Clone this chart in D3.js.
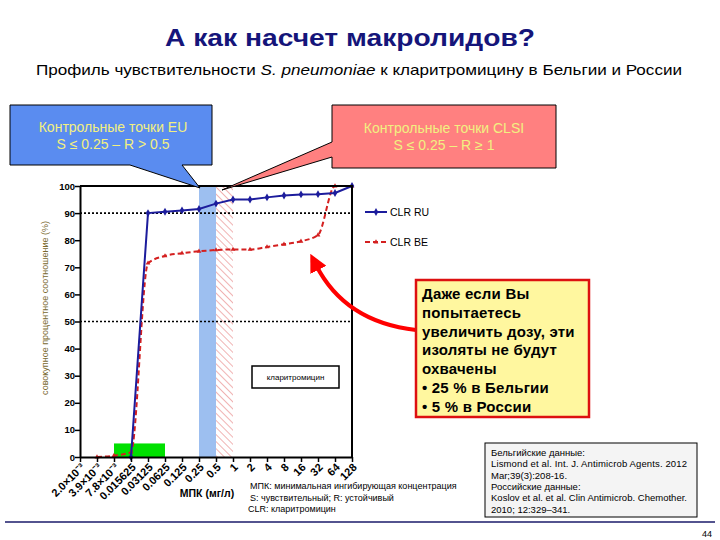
<!DOCTYPE html>
<html><head><meta charset="utf-8">
<script src="https://cdn.jsdelivr.net/npm/d3@7/dist/d3.min.js"></script>
<style>body{margin:0;background:#fff}svg{display:block;font-family:"Liberation Sans",Arial,sans-serif}</style>
</head><body>
<svg id="c" width="720" height="540"></svg>
<script>
// ---- data ----
const categories = ["2.0×10⁻³","3.9×10⁻³","7.8×10⁻³","0.015625","0.03125","0.0625","0.125","0.25","0.5","1","2","4","8","16","32","64","128"];
const seriesRU = [null,null,null,0,90,90.5,91,91.5,93.5,95,95,95.8,96.5,96.9,97,97.4,100];
const seriesBE = [null,0,0.5,1.8,71.5,74.2,75.2,75.9,76.4,76.6,76.6,77.5,78.5,79.6,81.9,100,100];
const yTicks = [0,10,20,30,40,50,60,70,80,90,100];
const euBand = ["0.25","0.5"];
const clsiBand = ["0.5","1"];
const greenZone = {from:"7.8×10⁻³", to:"0.0625", value:5};
const refLines = [90,50];
const calloutLines = ["Даже если Вы","попытаетесь","увеличить дозу, эти","изоляты не будут","охвачены","• 25 % в Бельгии","• 5 % в России"];
const citeLines = ["Бельгийские данные:","Lismond et al. Int. J. Antimicrob Agents. 2012","Mar;39(3):208-16.","Российские данные:","Koslov et al. et al. Clin Antimicrob. Chemother.","2010; 12:329–341."];
const noteLines = ["МПК: минимальная ингибирующая концентрация","S: чувствительный; R: устойчивый","CLR: кларитромицин"];

const svg = d3.select("#c");
const L=80,R=352,T=186,B=457;
const x = d3.scalePoint().domain(categories).range([L,R]).padding(0);
const y = d3.scaleLinear().domain([0,100]).range([B,T]);

// title
svg.append("text").attr("x",350).attr("y",46).attr("text-anchor","middle")
  .attr("font-size",24).attr("font-weight","bold").attr("fill","#15157a")
  .attr("textLength",370).attr("lengthAdjust","spacingAndGlyphs").text("А как насчет макролидов?");
const st = svg.append("text").attr("x",359).attr("y",75).attr("text-anchor","middle").attr("font-size",15).attr("fill","#000")
  .attr("textLength",646).attr("lengthAdjust","spacingAndGlyphs");
st.append("tspan").text("Профиль чувствительности ");
st.append("tspan").attr("font-style","italic").text("S. pneumoniae");
st.append("tspan").text(" к кларитромицину в Бельгии и России");

// defs
const defs = svg.append("defs");
const pat = defs.append("pattern").attr("id","hatch").attr("patternUnits","userSpaceOnUse")
  .attr("width",5).attr("height",5).attr("patternTransform","rotate(-45)");
pat.append("line").attr("x1",0).attr("y1",0).attr("x2",0).attr("y2",5).attr("stroke","#eca0a0").attr("stroke-width",1.6);
defs.append("marker").attr("id","arr").attr("markerUnits","userSpaceOnUse").attr("viewBox","0 0 10 10")
  .attr("refX",3).attr("refY",5).attr("markerWidth",18).attr("markerHeight",18).attr("orient","auto")
  .append("path").attr("d","M0,0 L10,5 L0,10 Z").attr("fill","#ff0000");

// bands
svg.append("rect").attr("x",x(euBand[0])).attr("y",T).attr("width",x(euBand[1])-x(euBand[0])).attr("height",B-T).attr("fill","#9dbff0");
svg.append("rect").attr("x",x(clsiBand[0])).attr("y",T).attr("width",x(clsiBand[1])-x(clsiBand[0])).attr("height",B-T).attr("fill","url(#hatch)");
svg.append("rect").attr("x",x(greenZone.from)).attr("y",y(greenZone.value)).attr("width",x(greenZone.to)-x(greenZone.from)).attr("height",y(0)-y(greenZone.value)).attr("fill","#00e000");

// reference dotted lines
refLines.forEach(v=>svg.append("line").attr("x1",L).attr("x2",R).attr("y1",y(v)).attr("y2",y(v))
  .attr("stroke","#000").attr("stroke-width",1.6).attr("stroke-dasharray","2,2"));

// series
const idx = categories.map((c,i)=>i);
const ptsRU = idx.filter(i=>seriesRU[i]!==null).map(i=>[x(categories[i]),y(seriesRU[i])]);
const ptsBE = idx.filter(i=>seriesBE[i]!==null).map(i=>[x(categories[i]),y(seriesBE[i])]);
svg.append("path").attr("d",d3.line().curve(d3.curveMonotoneX)(ptsBE)).attr("fill","none")
  .attr("stroke","#d42020").attr("stroke-width",2).attr("stroke-dasharray","5,3");
ptsBE.forEach(p=>svg.append("path").attr("transform",`translate(${p[0]},${p[1]})`)
  .attr("d",d3.symbol(d3.symbolTriangle,10)()).attr("fill","#d42020"));
svg.append("path").attr("d",d3.line()(ptsRU)).attr("fill","none").attr("stroke","#1c1c9c").attr("stroke-width",2);
ptsRU.forEach(p=>svg.append("path").attr("transform",`translate(${p[0]},${p[1]})`)
  .attr("d",d3.symbol(d3.symbolDiamond,18)()).attr("fill","#1c1c9c"));

// axes
const ya = svg.append("g").attr("transform",`translate(${L},0)`)
  .call(d3.axisLeft(y).tickValues(yTicks).tickSize(5).tickSizeOuter(0));
ya.select(".domain").attr("stroke-width",2);
ya.selectAll(".tick line").attr("stroke-width",1.5);
ya.selectAll(".tick text").attr("font-size",9.5).attr("font-weight","bold").attr("font-family","Liberation Sans, Arial").attr("x",-5);
const xa = svg.append("g").attr("transform",`translate(0,${B})`)
  .call(d3.axisBottom(x).tickSize(5).tickSizeOuter(0));
xa.select(".domain").attr("stroke-width",2);
xa.selectAll(".tick line").attr("stroke-width",1.5);
xa.selectAll(".tick text").attr("font-size",11).attr("font-weight","bold").attr("font-family","Liberation Sans, Arial")
  .attr("text-anchor","end").attr("dy",0).attr("y",0).attr("transform","translate(5,11) rotate(-45)");
svg.append("path").attr("d",`M${L},${T}H${R}V${B}`).attr("fill","none").attr("stroke","#000").attr("stroke-width",2);

// axis titles
svg.append("text").attr("transform",`translate(48,308) rotate(-90)`).attr("text-anchor","middle")
  .attr("font-size",9).attr("fill","#7a6a30").text("совокупное процентное соотношение (%)");
svg.append("text").attr("x",207).attr("y",497).attr("text-anchor","middle").attr("font-size",10.5).attr("font-weight","bold").text("МПК (мг/л)");

// legend
const leg = [{n:"CLR RU",c:"#1c1c9c",d:null,s:d3.symbolDiamond,z:18,y:212},{n:"CLR BE",c:"#d42020",d:"5,3",s:d3.symbolTriangle,z:10,y:242}];
leg.forEach(l=>{
  svg.append("line").attr("x1",365).attr("x2",387).attr("y1",l.y).attr("y2",l.y).attr("stroke",l.c).attr("stroke-width",2).attr("stroke-dasharray",l.d);
  svg.append("path").attr("transform",`translate(376,${l.y})`).attr("d",d3.symbol(l.s,l.z)()).attr("fill",l.c);
  svg.append("text").attr("x",390).attr("y",l.y+4).attr("font-size",10.5).text(l.n);
});

// кларитромицин box
svg.append("rect").attr("x",252).attr("y",366).attr("width",87).attr("height",22).attr("fill","#fff").attr("stroke","#000").attr("stroke-width",1.5);
svg.append("text").attr("x",295.5).attr("y",380).attr("text-anchor","middle").attr("font-size",8).text("кларитромицин");

// callouts
svg.append("path").attr("d","M10,105H212V165H182L200,188L130,165H10Z").attr("fill","#5a8cf0").attr("stroke","#000").attr("stroke-width",1);
svg.append("text").attr("x",113).attr("y",132).attr("text-anchor","middle").attr("font-size",14).attr("fill","#f2f080").text("Контрольные точки EU");
svg.append("text").attr("x",113).attr("y",149).attr("text-anchor","middle").attr("font-size",14).attr("fill","#f2f080").text("S ≤ 0.25 – R > 0.5");
svg.append("path").attr("d","M332,105H556V168H332V157L222,190L332,142Z").attr("fill","#ff8080").attr("stroke","#000").attr("stroke-width",1);
svg.append("text").attr("x",444).attr("y",133).attr("text-anchor","middle").attr("font-size",14).attr("fill","#f2f080").text("Контрольные точки CLSI");
svg.append("text").attr("x",444).attr("y",150).attr("text-anchor","middle").attr("font-size",14).attr("fill","#f2f080").text("S ≤ 0.25 – R ≥ 1");

// yellow box + arrow
svg.append("path").attr("d","M416,330Q345,322 316,265").attr("fill","none").attr("stroke","#ff0000").attr("stroke-width",4).attr("marker-end","url(#arr)");
svg.append("rect").attr("x",416).attr("y",280).attr("width",173).attr("height",137).attr("fill","#fff79f").attr("stroke","#dd1010").attr("stroke-width",2.5);
calloutLines.forEach((t,i)=>svg.append("text").attr("x",422).attr("y",299+i*18.8).attr("font-size",15).attr("font-weight","bold").attr("letter-spacing",0.2).text(t));

// notes
noteLines.forEach((t,i)=>svg.append("text").attr("x",i==2?248:250).attr("y",489+i*11.5).attr("font-size",9).text(t));
svg.append("rect").attr("x",485).attr("y",443).attr("width",212).attr("height",74).attr("fill","#f4f4f4").attr("stroke","#000").attr("stroke-width",1);
citeLines.forEach((t,i)=>svg.append("text").attr("x",491).attr("y",456+i*11.3).attr("font-size",9.5).attr("textLength",i==1||i==4?196:null).text(t));

// footer
svg.append("line").attr("x1",5).attr("x2",715).attr("y1",522).attr("y2",522).attr("stroke","#1a1a6a").attr("stroke-width",1.5);
svg.append("text").attr("x",712).attr("y",537).attr("text-anchor","end").attr("font-size",9).text("44");
</script>
</body></html>
